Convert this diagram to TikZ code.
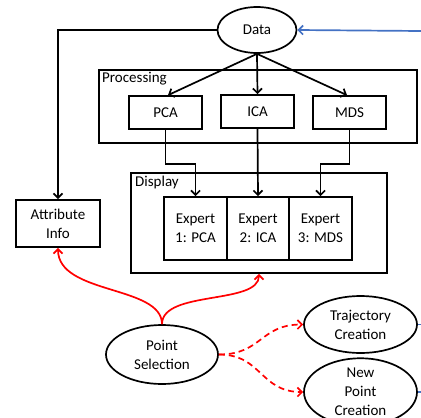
\documentclass[tikz,border=0pt]{standalone}
\usepackage{fontspec}
\setmainfont{Carlito}
\usetikzlibrary{arrows.meta,shapes.geometric}
\definecolor{myblue}{RGB}{68,114,196}
\begin{document}
\begin{tikzpicture}[x=1pt,y=-1pt,
  every node/.style={font=\fontsize{15}{19}\selectfont},
  box/.style={draw, line width=1.7pt, inner sep=0pt, align=center},
  ell/.style={draw, ellipse, line width=1.7pt, inner sep=0pt, align=center},
  lbl/.style={inner sep=0pt, anchor=north west},
  arr/.style={line width=1.7pt, -{Straight Barb[length=4.5pt,width=9pt]}},
  redarr/.style={line width=1.7pt, red, -{Straight Barb[length=4.5pt,width=9pt]}},
  reddash/.style={redarr, dash pattern=on 6pt off 4pt},
  bluearr/.style={line width=1.7pt, myblue, -{Straight Barb[length=4.5pt,width=9pt]}},
  blueline/.style={line width=1.7pt, myblue}]
\useasboundingbox (0,0) rectangle (421,418);

% containers
\node[box, minimum width=318pt, minimum height=73pt] (proc) at (258,106.5) {};
\node[lbl] (proclbl) at (102,72) {Processing};
\node[box, minimum width=256pt, minimum height=100pt] (disp) at (259,223) {};
\node[lbl] (displbl) at (135,176) {Display};

% nodes
\node[ell, minimum width=79pt, minimum height=46pt] (data) at (257,30) {Data};
\node[box, minimum width=73pt, minimum height=33pt] (pca) at (165.5,112.5) {PCA};
\node[box, minimum width=73pt, minimum height=33pt] (ica) at (257.5,111.5) {ICA};
\node[box, minimum width=73pt, minimum height=33pt] (mds) at (349.5,112.5) {MDS};
\node[box, minimum width=62.5pt, minimum height=63pt] (e1) at (195.5,228.5) {Expert\\1: PCA};
\node[box, minimum width=62pt, minimum height=63pt] (e2) at (258,228.5) {Expert\\2: ICA};
\node[box, minimum width=63pt, minimum height=63pt] (e3) at (320.5,228.5) {Expert\\3: MDS};
\node[box, minimum width=84pt, minimum height=47pt] (attr) at (58,223.5) {Attribute\\Info};
\node[ell, minimum width=112pt, minimum height=59pt] (ps) at (162,354.5) {Point\\Selection};
\node[ell, minimum width=113pt, minimum height=57pt] (traj) at (360.5,324.5) {Trajectory\\Creation};
\node[ell, minimum width=113pt, minimum height=57pt] (np) at (360.5,392) {New\\Point\\Creation};

% blue connectors
\coordinate (bin) at (421,31);
\coordinate (tout) at (421,324.5);
\coordinate (nout) at (421,392);
\draw[bluearr] (bin) -- (data.east);
\draw[blueline] (traj.east) -- (tout);
\draw[blueline] (np.east) -- (nout);

% black connectors
\draw[arr] (data.west) -| (attr.north);
\draw[arr] (data.south) -- ([xshift=2.5pt]pca.north);
\draw[arr] (data.south) -- (ica.north);
\draw[arr] (data.south) -- ([xshift=-2.5pt]mds.north);
\draw[arr] (pca.south) -- ++(0,34) -| (e1.north);
\draw[arr] (ica.south) -- (e2.north);
\draw[arr] (mds.south) -- ++(0,34) -| (e3.north);

% red connectors
\draw[redarr] (ps.north) .. controls (162,285) and (58,295) .. (attr.south);
\draw[redarr] (ps.north) .. controls (162,290) and (259,305) .. (disp.south);
\draw[reddash] (ps.east) .. controls (262,354.5) and (260,324.5) .. (traj.west);
\draw[reddash] (ps.east) .. controls (262,354.5) and (260,392) .. (np.west);
\end{tikzpicture}
\end{document}
